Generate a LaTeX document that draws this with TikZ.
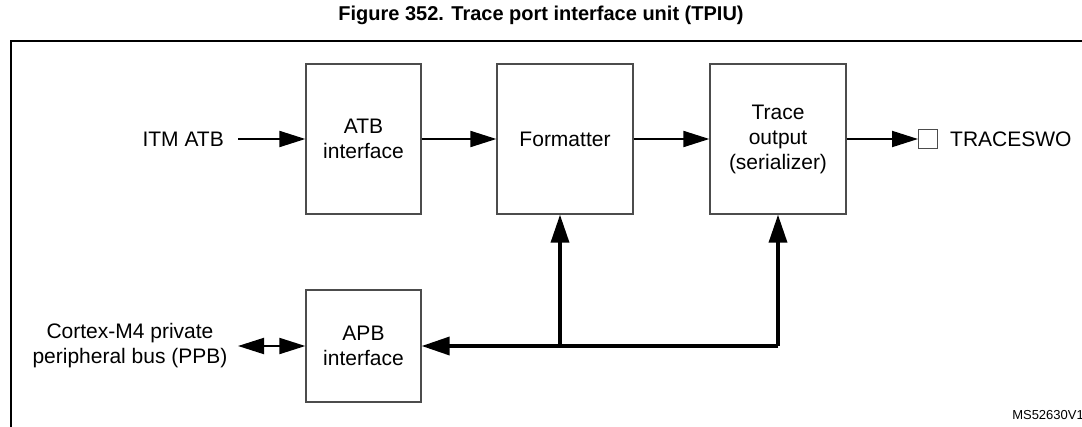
\documentclass[tikz,border=0pt]{standalone}
\usepackage{fontspec}
\setmainfont{Liberation Sans}
\usetikzlibrary{arrows.meta,positioning}

\begin{document}
\begin{tikzpicture}[x=1pt,y=-1pt,
  blk/.style={draw=black!70,line width=1.3pt,minimum width=136pt,minimum height=150pt,
    align=center,font=\fontsize{21}{25}\selectfont,inner sep=0pt},
  lbl/.style={align=center,font=\fontsize{21}{25}\selectfont,inner sep=0pt},
  sig/.style={line width=2pt,-{Triangle[length=26pt,width=16pt]}},
  bus/.style={line width=3.5pt,-{Triangle[length=28pt,width=18pt]}}]

  \useasboundingbox (0,0) rectangle (1082,426);

  \node[font=\bfseries\fontsize{20}{23}\selectfont] (title) at (541,15) {Figure 352. Trace port interface unit (TPIU)};
  \draw[line width=2.2pt] (1090,41) -- (11,41) -- (11,440);

  % blocks
  \node[blk,minimum width=115pt] (atb) at (363.5,139) {ATB\\interface};
  \node[blk] (fmt) at (565,139) {Formatter};
  \node[blk] (out) at (778,139) {Trace\\output\\(serializer)};
  \node[blk,minimum width=115pt,minimum height=112pt] (apb) at (363.5,346) {APB\\interface};

  % pins and labels
  \node[lbl,anchor=east] (itm) at (224,139) {ITM ATB};
  \node[draw=black!70,line width=1.2pt,minimum size=19pt,inner sep=0pt,anchor=west] (pin) at (918,139) {};
  \node[lbl,anchor=west] (swo) at (950,139) {TRACESWO};
  \node[lbl] (ppb) at (130,346) {Cortex-M4 private\\peripheral bus (PPB)};
  \node[font=\fontsize{13}{15}\selectfont,anchor=south east,inner sep=0pt] (ref) at (1084,420) {MS52630V1};

  \coordinate (ppbr) at (238,346);
  \coordinate (itmr) at (238,139);
  \coordinate (tap) at (560,346);

  % data path
  \draw[sig] (itmr) -- (atb.west);
  \draw[sig] (atb.east) -- (fmt.west);
  \draw[sig] (fmt.east) -- (out.west);
  \draw[sig] (out.east) -- (pin.west);
  \draw[sig,{Triangle[length=26pt,width=16pt]}-{Triangle[length=26pt,width=16pt]}] (ppbr) -- (apb.west);

  % register bus
  \draw[bus] (out.south |- apb.east) -- (apb.east);
  \draw[bus] (out.south |- apb.east) -- (out.south);
  \draw[bus] (tap) -- (tap |- fmt.south);
\end{tikzpicture}
\end{document}
